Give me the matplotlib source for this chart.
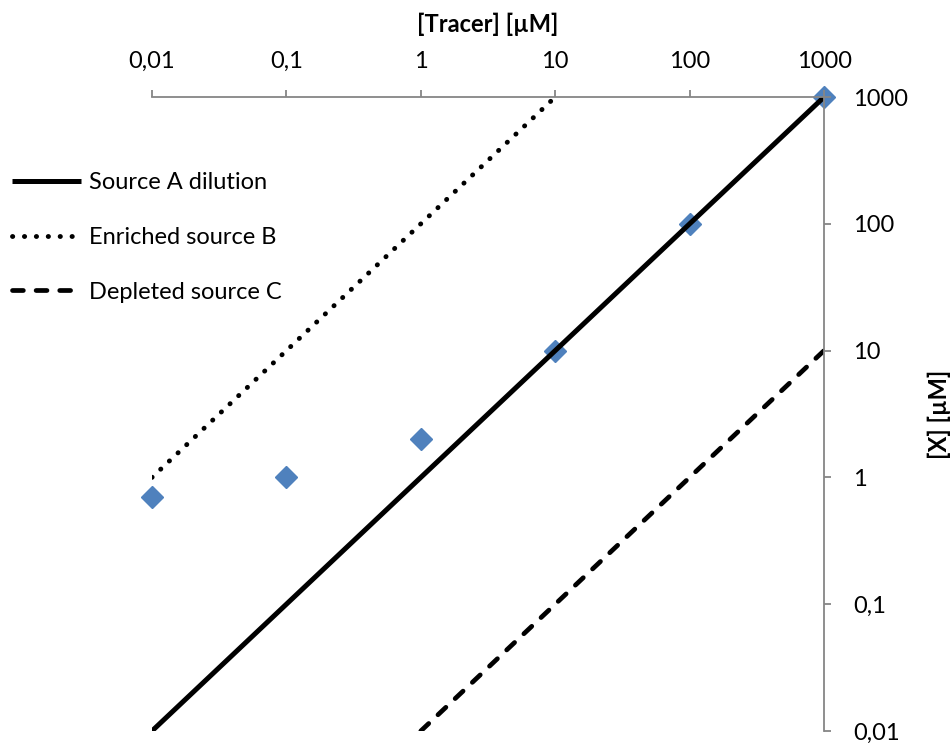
import matplotlib
matplotlib.use('Agg')
import matplotlib.pyplot as plt
from matplotlib.ticker import FixedLocator, FixedFormatter, NullLocator

plt.rcParams['font.family'] = ['Lato', 'DejaVu Sans']

# data
tracer_a = [0.01, 1000]
x_a = [0.01, 1000]
tracer_b = [0.01, 10]
x_b = [1, 1000]
tracer_c = [1, 1000]
x_c = [0.01, 10]
obs_tracer = [0.01, 0.1, 1, 10, 100, 1000]
obs_x = [0.7, 1, 2, 10, 100, 1000]
ticks = [0.01, 0.1, 1, 10, 100, 1000]
tick_labels = ['0,01', '0,1', '1', '10', '100', '1000']

fig = plt.figure(figsize=(9.5, 7.43), dpi=100)
ax = fig.add_axes([0.16, 0.0162, 0.7074, 0.8532])

ax.plot(obs_tracer, obs_x, linestyle='none', marker='D', markersize=11,
        color='#4F81BD', markeredgecolor='#4F81BD', clip_on=False, zorder=1)
la, = ax.plot(tracer_a, x_a, color='black', lw=3.6, solid_capstyle='butt', label='Source A dilution', zorder=2)
lb, = ax.plot(tracer_b, x_b, color='black', lw=3.5, linestyle=(0, (0.05, 2.4)),
              dash_capstyle='round', label='Enriched source B', zorder=2)
lc, = ax.plot(tracer_c, x_c, color='black', lw=3.4, linestyle=(0, (2.3, 2.7)),
              dash_capstyle='round', label='Depleted source C', zorder=2)

ax.set_xscale('log')
ax.set_yscale('log')
ax.set_xlim(0.01, 1000)
ax.set_ylim(0.01, 1000)

for s in ['left', 'bottom']:
    ax.spines[s].set_visible(False)
for s in ['top', 'right']:
    ax.spines[s].set_color('#868686')
    ax.spines[s].set_linewidth(1.3)

ax.xaxis.set_ticks_position('top')
ax.xaxis.set_label_position('top')
ax.yaxis.set_ticks_position('right')
ax.yaxis.set_label_position('right')
ax.xaxis.set_major_locator(FixedLocator(ticks))
ax.xaxis.set_major_formatter(FixedFormatter(tick_labels))
ax.yaxis.set_major_locator(FixedLocator(ticks))
ax.yaxis.set_major_formatter(FixedFormatter(tick_labels))
ax.xaxis.set_minor_locator(NullLocator())
ax.yaxis.set_minor_locator(NullLocator())
ax.tick_params(axis='both', which='major', direction='out', length=5, width=1.3,
               color='#868686', labelsize=17, labelcolor='black')
ax.tick_params(axis='x', pad=13)
ax.tick_params(axis='y', pad=16)

ax.set_xlabel('[Tracer] [µM]', fontsize=17, fontweight='bold', labelpad=14)
ax.set_ylabel('[X] [µM]', fontsize=17, fontweight='bold', rotation=90, labelpad=14)

fig.legend(handles=[la, lb, lc], loc='upper left', bbox_to_anchor=(0.005, 0.778),
           frameon=False, fontsize=17, handlelength=2.95, handletextpad=0.3,
           labelspacing=1.43, borderaxespad=0.0, borderpad=0.3)

fig.savefig('out.png', dpi=100)
